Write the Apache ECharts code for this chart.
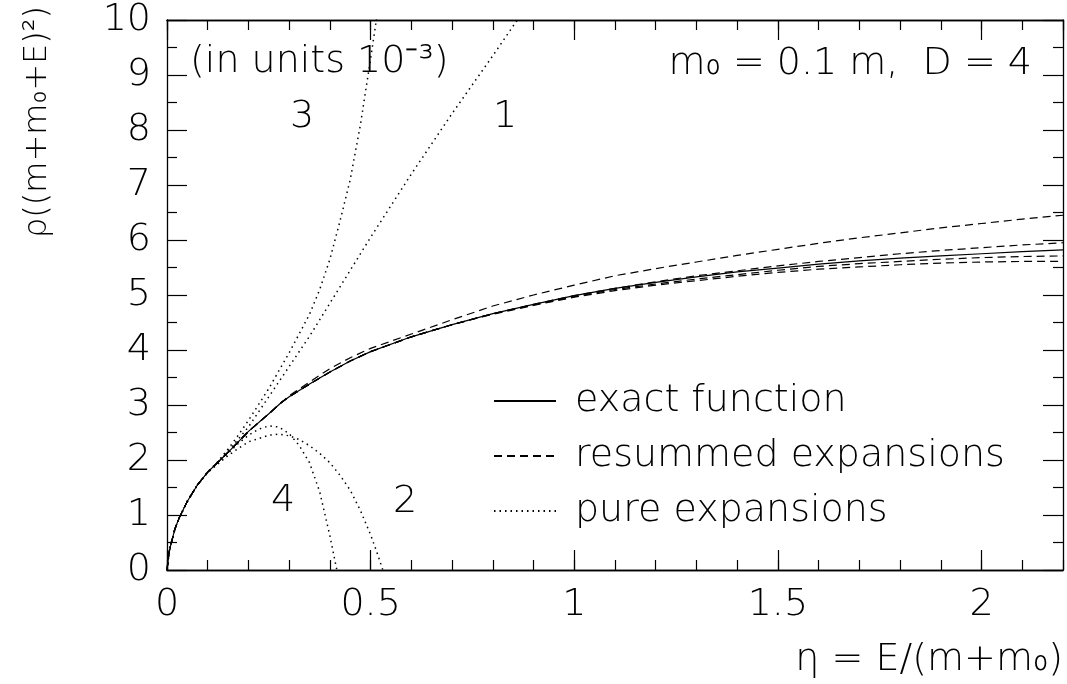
<!DOCTYPE html>
<html>
<head>
<meta charset="utf-8">
<script src="https://cdn.jsdelivr.net/npm/echarts@6/dist/echarts.min.js"></script>
<style>
  html, body { margin: 0; padding: 0; background: #fff; }
  #chart { width: 1067px; height: 684px; }
</style>
</head>
<body>
<div id="chart"></div>
<script>
// eta grid shared by the exact curve and the resummed expansions
var etaGrid = [0, 0.005, 0.01, 0.02, 0.03, 0.05, 0.075, 0.1, 0.125, 0.15, 0.175, 0.2, 0.25, 0.28, 0.3, 0.35, 0.4, 0.45, 0.5, 0.6, 0.7, 0.8, 0.9, 1.0, 1.1, 1.2, 1.3, 1.4, 1.5, 1.6, 1.7, 1.8, 1.9, 2.0, 2.1, 2.2];
var exactRho = [0, 0.32, 0.48, 0.76, 0.95, 1.25, 1.55, 1.78, 1.96, 2.14, 2.33, 2.52, 2.84, 3.04, 3.15, 3.38, 3.6, 3.8, 3.97, 4.24, 4.46, 4.66, 4.83, 4.99, 5.12, 5.23, 5.33, 5.42, 5.49, 5.56, 5.62, 5.67, 5.71, 5.75, 5.79, 5.82];
var resummed1 = [0, 0.32, 0.48, 0.76, 0.95, 1.25, 1.55, 1.78, 1.96, 2.14, 2.33, 2.52, 2.84, 3.04, 3.17, 3.42, 3.66, 3.86, 4.03, 4.29, 4.55, 4.8, 5.0, 5.18, 5.35, 5.48, 5.6, 5.72, 5.83, 5.94, 6.04, 6.13, 6.22, 6.3, 6.38, 6.45];
var resummed2 = [0, 0.32, 0.48, 0.76, 0.95, 1.25, 1.55, 1.78, 1.96, 2.14, 2.33, 2.52, 2.84, 3.04, 3.15, 3.38, 3.6, 3.8, 3.97, 4.24, 4.46, 4.66, 4.83, 4.99, 5.12, 5.24, 5.35, 5.44, 5.53, 5.61, 5.68, 5.75, 5.81, 5.86, 5.91, 5.95];
var resummed3 = [0, 0.32, 0.48, 0.76, 0.95, 1.25, 1.55, 1.78, 1.96, 2.14, 2.33, 2.52, 2.84, 3.04, 3.15, 3.38, 3.6, 3.8, 3.97, 4.24, 4.46, 4.66, 4.82, 4.97, 5.1, 5.2, 5.29, 5.37, 5.45, 5.52, 5.57, 5.61, 5.65, 5.68, 5.7, 5.71];
var resummed4 = [0, 0.32, 0.48, 0.76, 0.95, 1.25, 1.55, 1.78, 1.96, 2.14, 2.33, 2.52, 2.84, 3.04, 3.15, 3.38, 3.6, 3.8, 3.97, 4.24, 4.46, 4.65, 4.81, 4.96, 5.08, 5.18, 5.26, 5.34, 5.41, 5.47, 5.51, 5.55, 5.58, 5.6, 5.61, 5.61];

// pure expansions, each on its own eta points
var pure1Eta = [0, 0.005, 0.01, 0.02, 0.03, 0.05, 0.075, 0.1, 0.125, 0.15, 0.175, 0.2, 0.25, 0.3, 0.35, 0.4, 0.45, 0.5, 0.6, 0.7, 0.8, 0.86];
var pure1Rho = [0, 0.32, 0.48, 0.76, 0.95, 1.25, 1.55, 1.78, 1.97, 2.17, 2.38, 2.6, 3.15, 3.7, 4.25, 4.85, 5.45, 6.05, 7.2, 8.3, 9.35, 10.0];
var pure2Eta = [0, 0.005, 0.01, 0.02, 0.03, 0.05, 0.075, 0.1, 0.125, 0.15, 0.175, 0.2, 0.25, 0.275, 0.3, 0.325, 0.35, 0.375, 0.4, 0.425, 0.45, 0.475, 0.5, 0.515, 0.53];
var pure2Rho = [0, 0.32, 0.48, 0.76, 0.95, 1.25, 1.55, 1.77, 1.93, 2.08, 2.21, 2.33, 2.45, 2.47, 2.44, 2.37, 2.26, 2.12, 1.95, 1.72, 1.45, 1.08, 0.64, 0.33, 0];
var pure3Eta = [0, 0.005, 0.01, 0.02, 0.03, 0.05, 0.075, 0.1, 0.125, 0.15, 0.175, 0.2, 0.25, 0.3, 0.35, 0.375, 0.4, 0.425, 0.45, 0.475, 0.5, 0.52];
var pure3Rho = [0, 0.32, 0.48, 0.76, 0.95, 1.25, 1.55, 1.78, 1.97, 2.2, 2.45, 2.72, 3.3, 3.95, 4.65, 5.1, 5.65, 6.35, 7.1, 8.1, 9.3, 10.3];
var pure4Eta = [0, 0.005, 0.01, 0.02, 0.03, 0.05, 0.075, 0.1, 0.125, 0.15, 0.175, 0.2, 0.225, 0.25, 0.275, 0.3, 0.325, 0.35, 0.375, 0.4, 0.417];
var pure4Rho = [0, 0.32, 0.48, 0.76, 0.95, 1.25, 1.55, 1.78, 1.95, 2.12, 2.3, 2.45, 2.56, 2.62, 2.6, 2.48, 2.26, 1.95, 1.42, 0.62, 0];

var legendNames = ['exact function', 'resummed expansions', 'pure expansions'];
var xTicks = [0, 0.5, 1, 1.5, 2];

var FONT = '"DejaVu Sans", sans-serif';
var INK = '#000';

function pairs(xs, ys) {
  return xs.map(function (x, i) { return [x, ys[i]]; });
}

function lineSeries(name, data, dash) {
  return {
    name: name,
    type: 'line',
    data: data,
    symbol: 'none',
    xAxisIndex: 0,
    yAxisIndex: 0,
    lineStyle: { color: INK, width: dash === 'dot' ? 1.5 : 1.2, type: dash === 'dot' ? [1.5, 4] : dash === 'dash' ? [8, 5] : 'solid' },
    itemStyle: { color: INK },
    emphasis: { disabled: true },
    z: 3
  };
}

function xAxisDef(pos, step, tickLen, withLabels) {
  return {
    type: 'value', position: pos, min: 0, max: 2.2, interval: step,
    axisLine: { show: true, onZero: false, lineStyle: { color: INK, width: 1.3 } },
    axisTick: { show: true, inside: true, length: tickLen, lineStyle: { color: INK, width: 1.2 } },
    axisLabel: {
      show: withLabels, showMaxLabel: false, margin: 16,
      fontSize: 38, fontFamily: FONT, fontWeight: 200, color: INK,
      formatter: function (v) { return xTicks.indexOf(v) >= 0 ? String(v) : ''; }
    },
    splitLine: { show: false }
  };
}

function yAxisDef(pos, withLabels) {
  return {
    type: 'value', position: pos, min: 0, max: 10, interval: 1,
    axisLine: { show: true, onZero: false, lineStyle: { color: INK, width: 1.3 } },
    axisTick: { show: true, inside: true, length: 20, lineStyle: { color: INK, width: 1.2 } },
    minorTick: { show: true, splitNumber: 2, length: 10, lineStyle: { color: INK, width: 1.2 } },
    axisLabel: { show: withLabels, margin: 16, fontSize: 38, fontFamily: FONT, fontWeight: 200, color: INK },
    splitLine: { show: false }
  };
}

function label(text, x, y, align, size) {
  return {
    type: 'text', x: x, y: y, z: 10,
    style: { text: text, fill: INK, font: '200 ' + (size || 38) + 'px ' + FONT, align: align || 'center', verticalAlign: 'middle' }
  };
}

var myChart = echarts.init(document.getElementById('chart'));
var option = {
  animation: false,
  backgroundColor: '#fff',
  grid: { left: 167, right: 4, top: 20, bottom: 114, containLabel: false, outerBoundsMode: 'none' },
  xAxis: [
    xAxisDef('bottom', 0.5, 20, true),
    xAxisDef('bottom', 0.1, 10, false),
    xAxisDef('top', 0.5, 20, false),
    xAxisDef('top', 0.1, 10, false)
  ],
  yAxis: [yAxisDef('left', true), yAxisDef('right', false)],
  legend: {
    data: legendNames,
    orient: 'vertical',
    left: 493, top: 382,
    padding: 0,
    itemWidth: 62, itemHeight: 20, itemGap: 17,
    selectedMode: false,
    itemStyle: { opacity: 0 },
    textStyle: { fontSize: 38, fontFamily: FONT, fontWeight: 200, color: INK, padding: [0, 0, 0, 14] }
  },
  series: [
    lineSeries('exact function', pairs(etaGrid, exactRho), 'solid'),
    lineSeries('resummed expansions', pairs(etaGrid, resummed1), 'dash'),
    lineSeries('resummed expansions', pairs(etaGrid, resummed2), 'dash'),
    lineSeries('resummed expansions', pairs(etaGrid, resummed3), 'dash'),
    lineSeries('resummed expansions', pairs(etaGrid, resummed4), 'dash'),
    lineSeries('pure expansions', pairs(pure1Eta, pure1Rho), 'dot'),
    lineSeries('pure expansions', pairs(pure2Eta, pure2Rho), 'dot'),
    lineSeries('pure expansions', pairs(pure3Eta, pure3Rho), 'dot'),
    lineSeries('pure expansions', pairs(pure4Eta, pure4Rho), 'dot')
  ],
  graphic: [
    label('(in units 10\u207B\u00B3)', 190, 62, 'left'),
    label('m\u2080 = 0.1 m,  D = 4', 1032, 64, 'right'),
    label('3', 302, 117),
    label('1', 505, 117),
    label('4', 283, 501),
    label('2', 405, 502),
    label('\u03B7 = E/(m+m\u2080)', 1063, 660, 'right'),
    {
      type: 'text', x: 38, y: 122, rotation: Math.PI / 2, z: 10,
      style: { text: '\u03C1((m+m\u2080+E)\u00B2)', fill: INK, font: '200 32px ' + FONT, align: 'center', verticalAlign: 'middle' }
    }
  ]
};
myChart.setOption(option);
window.onresize = function () {
  myChart.resize();
};
</script>
</body>
</html>
